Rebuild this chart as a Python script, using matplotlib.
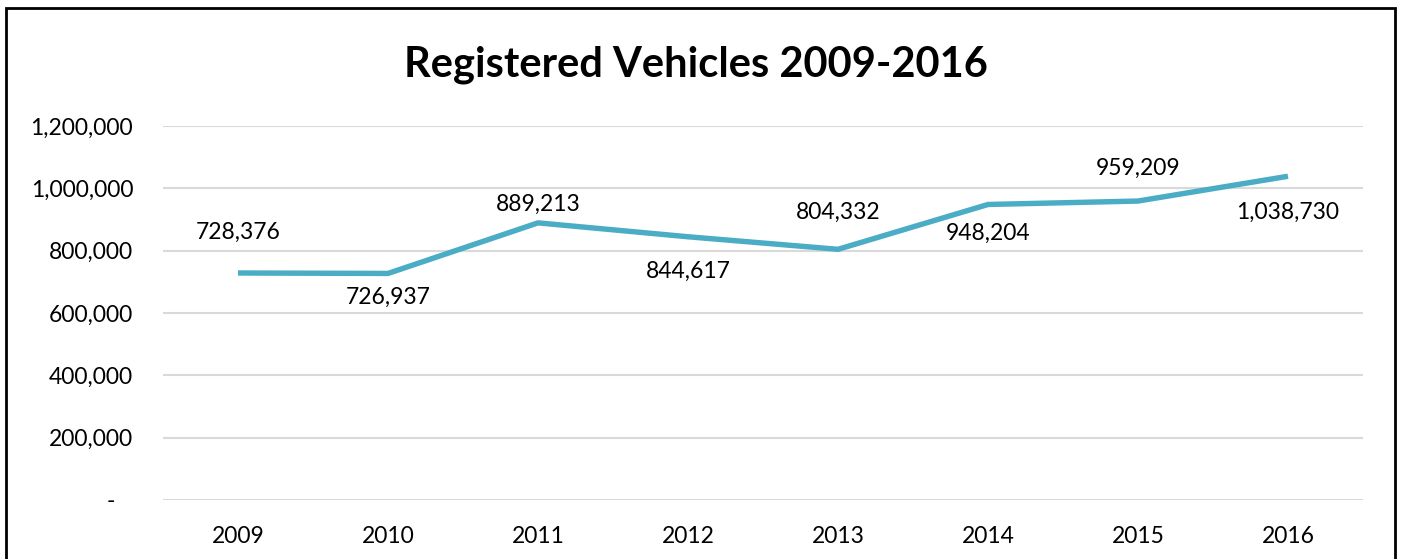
import matplotlib
matplotlib.use("Agg")
import matplotlib.pyplot as plt
from matplotlib.patches import Rectangle
from matplotlib.ticker import FuncFormatter

# data
years = ["2009", "2010", "2011", "2012", "2013", "2014", "2015", "2016"]
vehicles = [728376, 726937, 889213, 844617, 804332, 948204, 959209, 1038730]

# where each data label sits relative to its point (pixels)
label_offsets = [(0, 41), (0, -24), (0, 19), (0, -35), (0, 37), (0, -29), (0, 33), (0, -36)]

plt.rcParams['font.family'] = ['Lato', 'DejaVu Sans']

fig = plt.figure(figsize=(14.01, 5.59), dpi=100)
ax = fig.add_axes([163/1401, 1 - 500/559, 1200/1401, 374/559])

x = list(range(len(years)))
ax.plot(x, vehicles, color="#4BACC6", linewidth=3.9, solid_capstyle="butt", zorder=3)

for xi, v, off in zip(x, vehicles, label_offsets):
    ax.annotate(f"{v:,}", (xi, v), xytext=off, textcoords="offset pixels",
                ha="center", va="center", fontsize=16.5, color="black")

ax.set_xlim(-0.5, len(years) - 0.5)
ax.set_ylim(0, 1200000)
ax.set_yticks(range(0, 1200001, 200000))
# accounting style zero: a dash with some room after it
ax.yaxis.set_major_formatter(FuncFormatter(lambda v, p: "-   " if v == 0 else f"{int(v):,}"))
ax.set_xticks(x)
ax.set_xticklabels(years)
ax.tick_params(axis="both", length=0, labelsize=16.5, colors="black")
ax.tick_params(axis="y", pad=21.5)
ax.tick_params(axis="x", pad=19)
ax.grid(axis="y", color="#D9D9D9", linewidth=1.5)
ax.set_axisbelow(True)
for s in ax.spines.values():
    s.set_visible(False)

fig.text(0.497, 1 - 65/559, "Registered Vehicles 2009-2016", ha="center", va="center",
         fontsize=30, fontweight="bold")

# chart frame, bottom edge runs off the image
fig.patches.append(Rectangle((6/1401, -0.05), 1389/1401, 1.05 - 8/559,
                             transform=fig.transFigure, fill=False,
                             edgecolor="black", linewidth=2))

fig.savefig("out.png", dpi=100)
